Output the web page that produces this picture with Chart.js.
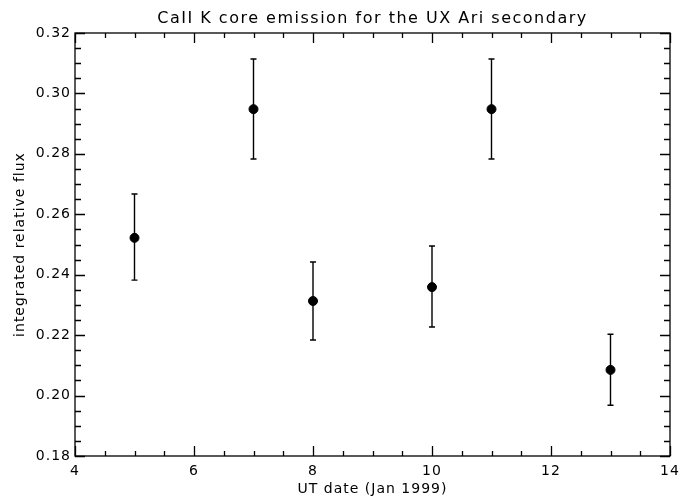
<!DOCTYPE html>
<html>
<head>
<meta charset="utf-8">
<script src="https://cdn.jsdelivr.net/npm/chart.js@4"></script>
<style>
  html, body { margin:0; padding:0; background:#fff; }
  #wrap { width:686px; height:498px; }
</style>
</head>
<body>
<div id="wrap"><canvas id="fluxChart" width="686" height="498"></canvas></div>
<script>
// UT date (Jan 1999) and integrated relative flux with error range
const dates = [5, 7, 8, 10, 11, 13];
const flux = [0.2522, 0.2948, 0.2313, 0.2359, 0.2948, 0.2085];
const fluxLow = [0.2382, 0.2783, 0.2184, 0.2227, 0.2783, 0.1968];
const fluxHigh = [0.2667, 0.3114, 0.2442, 0.2495, 0.3114, 0.2203];

const xTicks = [4, 6, 8, 10, 12, 14];
const yTicks = [0.18, 0.20, 0.22, 0.24, 0.26, 0.28, 0.30, 0.32];

const FONT = "'DejaVu Sans', sans-serif";

// wider letters, like the plotting font in the original
const spacing = {
    id: 'spacing',
    beforeDraw(chart){ chart.ctx.letterSpacing = '1px'; }
};

// error bars, drawn under the dots
const errorBars = {
    id: 'errorBars',
    beforeDatasetsDraw(chart){
        const ctx = chart.ctx;
        const xs = chart.scales.x, ys = chart.scales.y;
        ctx.save();
        ctx.strokeStyle = '#000';
        ctx.lineWidth = 1.4;
        for(let i=0;i<dates.length;i++){
            const px = xs.getPixelForValue(dates[i]);
            const lo = ys.getPixelForValue(fluxLow[i]);
            const hi = ys.getPixelForValue(fluxHigh[i]);
            ctx.beginPath();
            ctx.moveTo(px, lo); ctx.lineTo(px, hi);
            ctx.moveTo(px-3, lo); ctx.lineTo(px+3, lo);
            ctx.moveTo(px-3, hi); ctx.lineTo(px+3, hi);
            ctx.stroke();
        }
        ctx.restore();
    }
};

// IDL style box with inward ticks on all four sides + title
const frame = {
    id: 'frame',
    afterDraw(chart){
        const ctx = chart.ctx;
        const a = chart.chartArea;
        const xs = chart.scales.x, ys = chart.scales.y;
        ctx.save();
        ctx.strokeStyle = '#000';
        ctx.lineWidth = 1.3;
        ctx.strokeRect(a.left, a.top, a.right-a.left, a.bottom-a.top);
        ctx.beginPath();
        for(let v=4; v<=14.001; v+=0.5){
            const px = Math.round(xs.getPixelForValue(v)) + 0.5;
            const len = (Math.abs(v % 2) < 0.001) ? 10 : 5;
            ctx.moveTo(px, a.bottom); ctx.lineTo(px, a.bottom-len);
            ctx.moveTo(px, a.top); ctx.lineTo(px, a.top+len);
        }
        for(let k=0; k<=28; k++){
            const v = 0.18 + k*0.005;
            const py = Math.round(ys.getPixelForValue(v)) + 0.5;
            const len = (k % 4 === 0) ? 10 : 6;
            ctx.moveTo(a.left, py); ctx.lineTo(a.left+len, py);
            ctx.moveTo(a.right, py); ctx.lineTo(a.right-len, py);
        }
        ctx.stroke();

        ctx.fillStyle = '#000';
        ctx.font = '16px ' + FONT;
        ctx.letterSpacing = '1.5px';
        ctx.textAlign = 'center';
        ctx.textBaseline = 'middle';
        ctx.fillText('CaII K core emission for the UX Ari secondary', (a.left+a.right)/2, 19);
        ctx.restore();
    }
};

new Chart(document.getElementById('fluxChart'), {
    type: 'scatter',
    data: {
        datasets: [{
            data: dates.map((d,i) => ({x: d, y: flux[i]})),
            backgroundColor: '#000',
            borderColor: '#000',
            pointRadius: 4.5,
            pointHoverRadius: 4.5,
            showLine: false
        }]
    },
    options: {
        responsive: false,
        animation: false,
        layout: { padding: { top: 33, right: 16, left: 0, bottom: 0 } },
        plugins: { legend: { display: false }, tooltip: { enabled: false }, title: { display: false } },
        scales: {
            x: {
                type: 'linear', min: 4, max: 14,
                afterBuildTicks: s => { s.ticks = xTicks.map(v => ({value: v})); },
                afterFit: s => { s.height = 42; },
                grid: { display: false, drawTicks: false },
                border: { display: false },
                ticks: { color: '#000', font: { family: FONT, size: 14 }, padding: 7, maxRotation: 0,
                         callback: v => String(v) },
                title: { display: true, text: 'UT date (Jan 1999)', color: '#000',
                         font: { family: FONT, size: 14 }, padding: { top: 4, bottom: 0 } }
            },
            y: {
                type: 'linear', min: 0.18, max: 0.32,
                afterBuildTicks: s => { s.ticks = yTicks.map(v => ({value: v})); },
                afterFit: s => { s.width = 75; },
                grid: { display: false, drawTicks: false },
                border: { display: false },
                ticks: { color: '#000', font: { family: FONT, size: 14 }, padding: 4,
                         callback: v => v.toFixed(2) },
                title: { display: true, text: 'integrated relative flux', color: '#000',
                         font: { family: FONT, size: 14 }, padding: { top: 12, bottom: 0 } }
            }
        }
    },
    plugins: [spacing, errorBars, frame]
});
</script>
</body>
</html>
